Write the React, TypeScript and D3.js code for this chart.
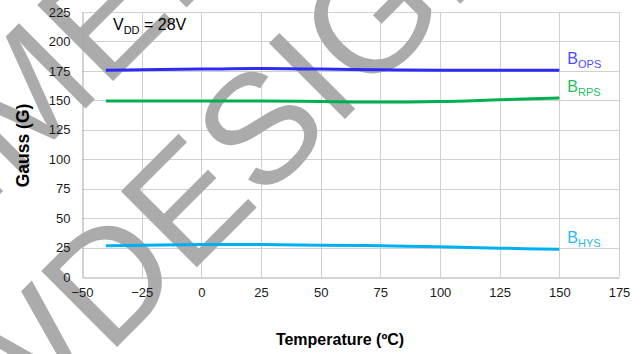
import React, { useRef, useEffect } from 'react';
import * as d3 from 'd3';

const temps = [-40, -25, 0, 25, 50, 75, 100, 125, 150];
const bops = [175.5, 176, 176.5, 177, 176.5, 176, 175.5, 175.5, 175.5];
const brps = [149.5, 149.5, 149.5, 149.5, 149, 148.5, 149, 150.5, 152];
const bhys = [26.5, 27, 27.5, 27.5, 27, 26.5, 25.7, 24.5, 23.5];
const xTicks = [-50, -25, 0, 25, 50, 75, 100, 125, 150, 175];
const yTicks = [0, 25, 50, 75, 100, 125, 150, 175, 200, 225];

const series = [
  { sub: 'OPS', values: bops, line: '#2b2bf5', text: '#4b4bff' },
  { sub: 'RPS', values: brps, line: '#00b050', text: '#1fbf5f' },
  { sub: 'HYS', values: bhys, line: '#00b0f0', text: '#2ab8f0' },
];

const App = () => {
  const svgRef = useRef<SVGSVGElement>(null);

  useEffect(() => {
    const width = 644;
    const height = 354;
    const margin = { top: 12, right: 25, bottom: 77, left: 82 };
    const font = 'Arial, "Liberation Sans", sans-serif';

    const svg = d3.select(svgRef.current);
    svg.selectAll('*').remove();

    const x = d3.scaleLinear().domain([-50, 175]).range([margin.left, width - margin.right]);
    const y = d3.scaleLinear().domain([0, 225]).range([height - margin.bottom, margin.top]);

    // grid
    const grid = svg.append('g').attr('stroke', '#d0d0d0').attr('stroke-width', 1);
    grid.selectAll('line.v').data(xTicks.slice(1)).enter().append('line')
      .attr('x1', d => Math.round(x(d)) + 0.5).attr('x2', d => Math.round(x(d)) + 0.5)
      .attr('y1', y(225)).attr('y2', y(0));
    grid.selectAll('line.h').data(yTicks.slice(1)).enter().append('line')
      .attr('y1', d => Math.round(y(d)) + 0.5).attr('y2', d => Math.round(y(d)) + 0.5)
      .attr('x1', x(-50)).attr('x2', x(175));

    // watermark
    const wm = svg.append('g').attr('fill', '#ababab').style('font-family', font).style('font-size', '156px');
    const ang = -45;
    wm.append('text').attr('transform', `translate(108,356) rotate(${ang})`).text('DESIGNS');
    wm.append('text').attr('transform', `translate(108,356) rotate(${ang})`).attr('text-anchor', 'end').text('NEW ');
    wm.append('text').attr('transform', `translate(104,90) rotate(${ang})`).text('ENDED FOR');
    wm.append('text').attr('transform', `translate(104,90) rotate(${ang})`).attr('text-anchor', 'end').text('NOT RECOMM');

    // axes
    const xAxis = svg.append('g').attr('transform', `translate(0,${Math.round(y(0)) + 0.5})`)
      .call(d3.axisBottom(x).tickValues(xTicks).tickSize(0).tickPadding(10));
    const yAxis = svg.append('g').attr('transform', `translate(${Math.round(x(-50)) + 0.5},0)`)
      .call(d3.axisLeft(y).tickValues(yTicks).tickSize(0).tickPadding(12));
    [xAxis, yAxis].forEach(a => {
      a.select('.domain').attr('stroke', '#a6a6a6');
      a.selectAll('text').style('font-family', font).style('font-size', '13px').attr('fill', '#1a1a1a');
    });

    // lines
    const line = d3.line<number>()
      .x((_, i) => x(temps[i]))
      .y(d => y(d))
      .curve(d3.curveCatmullRom);

    series.forEach(s => {
      svg.append('path').datum(s.values)
        .attr('d', line)
        .attr('fill', 'none')
        .attr('stroke', s.line)
        .attr('stroke-width', 3);
      const last = s.values[s.values.length - 1];
      const t = svg.append('text')
        .attr('x', x(150) + 8)
        .attr('y', y(last) - 6)
        .attr('fill', s.text)
        .style('font-family', font)
        .style('font-size', '16px');
      t.append('tspan').text('B');
      t.append('tspan').attr('dy', 4).style('font-size', '11px').text(s.sub);
    });

    // VDD label
    const v = svg.append('text').attr('x', 113).attr('y', 30)
      .style('font-family', font).style('font-size', '16px').attr('fill', '#000');
    v.append('tspan').text('V');
    v.append('tspan').attr('dy', 4).style('font-size', '11px').text('DD');
    v.append('tspan').attr('dy', -4).text(' = 28V');

    // axis titles
    svg.append('text')
      .attr('transform', `translate(29,${(y(0) + y(225)) / 2 + 1}) rotate(-90)`)
      .attr('text-anchor', 'middle')
      .style('font-family', font).style('font-size', '17.5px').style('font-weight', 'bold')
      .text('Gauss (G)');
    svg.append('text')
      .attr('x', 340).attr('y', 345)
      .attr('text-anchor', 'middle')
      .style('font-family', font).style('font-size', '16px').style('font-weight', 'bold')
      .text('Temperature (ºC)');
  }, []);

  return (
    <svg ref={svgRef} width={644} height={354}
      style={{ position: 'absolute', left: 0, top: 0, background: '#fff' }} />
  );
};

export default App;
